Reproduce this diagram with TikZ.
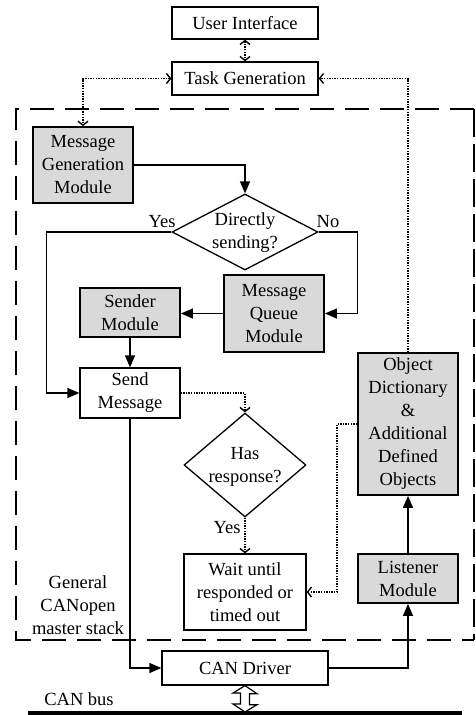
\documentclass[tikz,border=0pt]{standalone}
\usepackage{fontspec}
\setmainfont{Liberation Serif}
\usetikzlibrary{arrows.meta,shapes.geometric}
\newcommand\diagfont{\fontsize{18.5}{23}\selectfont}
\begin{document}
\begin{tikzpicture}[x=1pt,y=-1pt,
  box/.style={draw, line width=1.3pt, fill=white, inner sep=0pt, align=center, font=\diagfont},
  module/.style={box, fill=black!15, line width=1.8pt},
  decision/.style={draw, diamond, line width=1.3pt, inner sep=0pt},
  lbl/.style={font=\diagfont, align=center, inner sep=0pt},
  flow/.style={line width=1.3pt, -{Triangle[length=12pt,width=10pt]}},
  ctrl/.style={line width=1.4pt, dash pattern=on 1.4pt off 1.2pt, -{Straight Barb[length=4pt,width=10pt]}},
  ctrlboth/.style={ctrl, {Straight Barb[length=4pt,width=10pt]}-{Straight Barb[length=4pt,width=10pt]}}]
\useasboundingbox (0,0) rectangle (476,715);

% master stack frame
\draw[line width=1.3pt, dash pattern=on 24pt off 11pt] (474,109) -- (16,109) -- (16,640) -- (474,640);
\draw[line width=2.4pt, dash pattern=on 28pt off 7pt] (474,109) -- (474,640);
\node[lbl] (stack) at (78,605) {General\\CANopen\\master stack};

% top level
\node[box, minimum width=146pt, minimum height=32pt] (ui) at (245,23) {User Interface};
\node[box, minimum width=146pt, minimum height=33pt] (tg) at (245,78.5) {Task Generation};

% sending path
\node[module, minimum width=100pt, minimum height=76pt] (mgm) at (83,165) {Message\\Generation\\Module};
\node[decision, minimum width=146pt, minimum height=76pt] (ds) at (245,232) {};
\node[lbl] (dstext) at (245,233) {Directly\\sending?};
\node[module, minimum width=100pt, minimum height=77pt] (mqm) at (274,313.5) {Message\\Queue\\Module};
\node[module, minimum width=100pt, minimum height=49pt] (sm) at (130,312.5) {Sender\\Module};
\node[box, minimum width=100pt, minimum height=50pt] (send) at (130,393) {Send\\Message};
\node[decision, minimum width=122pt, minimum height=104pt] (hr) at (245,465) {};
\node[lbl] (hrtext) at (245,467) {Has\\response?};
\node[box, minimum width=122pt, minimum height=76pt] (wait) at (245,592) {Wait until\\responded or\\timed out};

% receiving path
\node[module, minimum width=100pt, minimum height=142pt] (od) at (408,424) {Object\\Dictionary\\\&\\Additional\\Defined\\Objects};
\node[module, minimum width=100pt, minimum height=49pt] (lm) at (408,578.5) {Listener\\Module};

% driver and bus
\node[box, minimum width=166pt, minimum height=34pt] (can) at (245,668) {CAN Driver};
\node[lbl] (buslbl) at (79,699) {CAN bus};
\coordinate (bus) at (245,712);
\fill (28,711) rectangle (462,716);

% branch labels
\node[lbl] (yes1) at (162,222) {Yes};
\node[lbl] (no1) at (328,222) {No};
\node[lbl] (yes2) at (227,528) {Yes};

% data flow
\draw[flow] (mgm.east) -| (ds.north);
\draw[flow] (ds.west) -- ++(-125,0) |- (send.west);
\draw[flow] (ds.east) -- ++(39,0) |- (mqm.east);
\draw[flow] (mqm.west) -- (mqm.west -| sm.east);
\draw[flow] (sm.south) -- (send.north);
\draw[flow] (send.south) |- (can.west);
\draw[flow] (can.east) -| (lm.south);
\draw[flow] (lm.north) -- (od.south);

% control flow
\draw[ctrlboth] (ui.south) -- (tg.north);
\draw[ctrlboth] (tg.west) -| (mgm.north);
\draw[ctrl] (od.north) |- (tg.east);
\draw[ctrl] (send.east) -| (hr.north);
\draw[ctrl] (hr.south) -- (wait.north);
\draw[ctrl] (od.west) -- ++(-20,0) |- (wait.east);

% bus connection
\draw[line width=1.2pt, fill=white] (can.south) -- ++(12,8) -- ++(-7.5,0) -- ++(0,11)
  -- ++(7.5,0) -- (bus) -- ++(-12,-8) -- ++(7.5,0) -- ++(0,-11) -- ++(-7.5,0) -- cycle;
\end{tikzpicture}
\end{document}
